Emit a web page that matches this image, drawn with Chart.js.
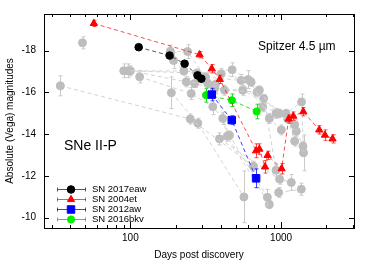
<!DOCTYPE html>
<html>
<head>
<meta charset="utf-8">
<script src="https://cdn.jsdelivr.net/npm/chart.js@4.4.1/dist/chart.umd.min.js"></script>
<style>
body { margin: 0; background: #fff; }
</style>
</head>
<body>
<canvas id="graph" width="374" height="262"></canvas>
<script>
// SN 2017eaw
var eawDays = [113.5, 182, 229, 279, 296];
var eawMag = [-18.16, -17.76, -17.37, -16.81, -16.65];
var eawErr = [0.12, 0.12, 0.1, 0.1, 0.1];

// SN 2004et
var etDays = [57.2, 288, 347, 392, 683, 718, 783, 815, 1009, 1123, 1206, 1405, 1793, 1956, 2197];
var etMag = [-19.30, -17.80, -17.13, -16.62, -13.20, -13.28, -12.43, -12.98, -12.34, -14.72, -14.86, -15.07, -14.20, -13.95, -13.77];
var etErr = [0.15, 0.15, 0.2, 0.2, 0.33, 0.25, 0.3, 0.2, 0.25, 0.2, 0.2, 0.2, 0.2, 0.25, 0.2];

// SN 2012aw
var awDays = [347, 471, 683];
var awMag = [-15.89, -14.67, -11.88];
var awErr = [0.3, 0.2, 0.45];

// SN 2016bkv
var bkvDays = [318, 472, 689];
var bkvMag = [-15.86, -15.62, -15.08];
var bkvErr = [0.33, 0.3, 0.35];

// other SNe II-P (grey), one list per object
var grayDays = [
  [34.3, 249.7, 655.6],
  [48.1],
  [90.3, 226.5, 400.6, 633, 836.5, 1004.6],
  [96, 276.1, 473.8, 604.6, 718.2, 926.6, 1231],
  [100, 235, 326.5, 421.3, 693.5, 766.9, 926.6],
  [115.2, 253.5, 352.4, 410.5, 454.7, 811.4],
  [187, 280.3, 567],
  [184, 239.6, 315.3, 543.4, 755.2, 974.3, 1263, 1398],
  [193.5, 266.6, 361.7, 556.8, 1079, 1369, 1411],
  [367.3, 439, 836.5],
  [390.3, 978.8, 1170],
  [964.1, 1363],
  [1106, 1231]
];
var grayMag = [
  [-16.31, -14.72, -12.46],
  [-18.37],
  [-17.03, -17.02, -16.89, -16.49, -14.75, -14.20],
  [-17.03, -16.92, -17.08, -16.61, -16.10, -14.99, -14.45],
  [-17.03, -16.50, -16.42, -16.10, -16.02, -15.70, -12.27],
  [-16.74, -15.94, -15.31, -14.75, -13.94, -10.97],
  [-15.98, -14.52, -10.99],
  [-17.97, -17.95, -16.73, -16.57, -15.31, -14.99, -14.14, -13.42],
  [-17.52, -16.42, -16.18, -16.10, -14.99, -15.54, -13.10],
  [-16.38, -13.90, -10.63],
  [-13.77, -11.84, -11.68],
  [-11.20, -11.36],
  [-14.72, -13.66]
];
var grayErr = [
  [0.48, 0.24, 0.24],
  [0.29],
  [0.33, 0.19, 0.24, 0.2, 0.24, 0.24],
  [0.33, 0.19, 0.33, 0.43, 0.2, 0.24, 0.24],
  [0.24, 0.24, 0.19, 0.24, 0.24, 0.19, 0.29],
  [0.29, 0.29, 0.38, 0.29, 0.2, 0.38],
  [0.76, 0.24, 1.24],
  [0.29, 0.33, 0.19, 0.29, 0.24, 0.2, 0.24, 0.24],
  [0.38, 0.19, 0.24, 0.24, 0.19, 0.38, 0.86],
  [0.2, 0.24, 0.2],
  [0.29, 0.24, 0.38],
  [0.24, 0.29],
  [0.2, 0.24]
];

var yTicks = [-18, -16, -14, -12, -10];
var xTickLabels = [100, 1000];

var xMin = 26.7, xMax = 3050;
var xMinor = [];
[10, 100, 1000].forEach(function(d) {
  for (var m = 1; m < 10; m++) {
    if (d * m >= xMin && d * m <= xMax) xMinor.push(d * m);
  }
});

var font = 'Liberation Sans, Arial, sans-serif';

function pts(xs, ys) {
  return xs.map(function(x, i) { return {x: x, y: ys[i]}; });
}

function series(label, xs, ys, errs, color, lineColor, style, r) {
  return {
    label: label, data: pts(xs, ys), err: errs, errColor: lineColor,
    showLine: true, borderColor: lineColor, borderWidth: 1, borderDash: [4, 3],
    pointStyle: style, pointRadius: r, pointBackgroundColor: color,
    pointBorderColor: color, pointBorderWidth: 1, fill: false
  };
}

var datasets = [
  series('SN 2017eaw', eawDays, eawMag, eawErr, '#000000', '#555555', 'circle', 3.8),
  series('SN 2004et', etDays, etMag, etErr, '#ff0000', 'rgba(255,0,0,0.7)', 'triangle', 4.2),
  series('SN 2012aw', awDays, awMag, awErr, '#0000ff', 'rgba(0,0,255,0.75)', 'rect', 5.3),
  series('SN 2016bkv', bkvDays, bkvMag, bkvErr, '#00ee00', 'rgba(0,220,0,0.85)', 'circle', 3.6)
];
var named = datasets.slice();
grayDays.forEach(function(xs, k) {
  var d = series('', xs, grayMag[k], grayErr[k], '#bdbdbd', '#d2d2d2', 'circle', 4);
  d.errColor = '#cacaca';
  datasets.push(d);
});

var errorBars = {
  id: 'errorBars',
  beforeDatasetDraw: function(chart, args) {
    var ds = chart.data.datasets[args.index];
    if (!ds.err) return;
    var ctx = chart.ctx, ys = chart.scales.y;
    ctx.save();
    ctx.strokeStyle = ds.errColor;
    ctx.lineWidth = 1;
    ctx.setLineDash([]);
    ctx.beginPath();
    args.meta.data.forEach(function(p, i) {
      var v = ds.data[i].y, e = ds.err[i];
      var y1 = ys.getPixelForValue(v - e), y2 = ys.getPixelForValue(v + e);
      var x = Math.round(p.x) + 0.5;
      ctx.moveTo(x, y1); ctx.lineTo(x, y2);
      ctx.moveTo(x - 2, y1); ctx.lineTo(x + 2, y1);
      ctx.moveTo(x - 2, y2); ctx.lineTo(x + 2, y2);
    });
    ctx.stroke();
    ctx.restore();
  }
};

var frame = {
  id: 'frame',
  afterDraw: function(chart) {
    var ctx = chart.ctx, a = chart.chartArea, xs = chart.scales.x, ys = chart.scales.y;
    ctx.save();
    ctx.strokeStyle = '#000';
    ctx.lineWidth = 1;
    ctx.setLineDash([]);
    ctx.strokeRect(Math.round(a.left) + 0.5, Math.round(a.top) + 0.5, Math.round(a.right - a.left), Math.round(a.bottom - a.top));
    ctx.beginPath();
    xs.ticks.forEach(function(t) {
      var px = Math.round(xs.getPixelForValue(t.value)) + 0.5;
      var len = xTickLabels.indexOf(t.value) >= 0 ? 6 : 3;
      ctx.moveTo(px, a.bottom); ctx.lineTo(px, a.bottom - len);
      ctx.moveTo(px, a.top); ctx.lineTo(px, a.top + len);
    });
    ys.ticks.forEach(function(t) {
      var py = Math.round(ys.getPixelForValue(t.value)) + 0.5;
      ctx.moveTo(a.left, py); ctx.lineTo(a.left + 5, py);
      ctx.moveTo(a.right, py); ctx.lineTo(a.right - 5, py);
    });
    ctx.stroke();

    // labels inside the plot
    ctx.fillStyle = '#000';
    ctx.textBaseline = 'alphabetic';
    ctx.textAlign = 'left';
    ctx.font = '12px ' + font;
    ctx.fillText('Spitzer 4.5 \u00b5m', 258, 50);
    ctx.font = '14px ' + font;
    ctx.fillText('SNe II-P', 64, 150);

    // legend
    var rows = [189, 199.3, 209.3, 219.3];
    named.forEach(function(ds, i) {
      var y = Math.round(rows[i]) + 0.5;
      ctx.strokeStyle = ds.borderColor;
      ctx.beginPath();
      ctx.moveTo(57, y); ctx.lineTo(86, y);
      ctx.moveTo(57.5, y - 2); ctx.lineTo(57.5, y + 2);
      ctx.moveTo(85.5, y - 2); ctx.lineTo(85.5, y + 2);
      ctx.stroke();
      ctx.fillStyle = ds.pointBackgroundColor;
      ctx.strokeStyle = ds.pointBorderColor;
      Chart.helpers.drawPoint(ctx, {pointStyle: ds.pointStyle, radius: ds.pointRadius, rotation: 0, borderWidth: 1}, 71, y);
      ctx.fillStyle = '#000';
      ctx.font = '9.5px ' + font;
      ctx.textBaseline = 'middle';
      ctx.fillText(ds.label, 92, y);
    });
    ctx.restore();
  }
};

var ctx = document.getElementById('graph').getContext('2d');
var chart = new Chart(ctx, {
  type: 'scatter',
  data: { datasets: datasets },
  options: {
    responsive: false,
    animation: false,
    events: [],
    layout: { padding: { left: 0, right: 20, top: 13, bottom: 0 } },
    plugins: { legend: { display: false }, tooltip: { enabled: false } },
    scales: {
      x: {
        type: 'logarithmic',
        min: xMin, max: xMax,
        afterFit: function(s) { s.height = 34; },
        afterBuildTicks: function(s) { s.ticks = xMinor.map(function(v) { return {value: v}; }); },
        grid: { display: false, drawTicks: false },
        border: { display: false },
        ticks: {
          autoSkip: false, maxRotation: 0, padding: 4, color: '#000',
          font: { family: font, size: 10 },
          callback: function(v) { return xTickLabels.indexOf(v) >= 0 ? String(v) : ''; }
        },
        title: { display: true, text: 'Days post discovery', color: '#000', font: { family: font, size: 10 }, padding: { top: 0, bottom: 1 } }
      },
      y: {
        type: 'linear',
        reverse: true,
        min: -19.75, max: -9.5,
        afterFit: function(s) { s.width = 44; },
        afterBuildTicks: function(s) { s.ticks = yTicks.map(function(v) { return {value: v}; }); },
        grid: { display: false, drawTicks: false },
        border: { display: false },
        ticks: { padding: 8, color: '#000', font: { family: font, size: 10 } },
        title: { display: true, text: 'Absolute (Vega) magnitudes', color: '#000', font: { family: font, size: 10 }, padding: { top: 4, bottom: 0 } }
      }
    }
  },
  plugins: [errorBars, frame]
});
</script>
</body>
</html>
